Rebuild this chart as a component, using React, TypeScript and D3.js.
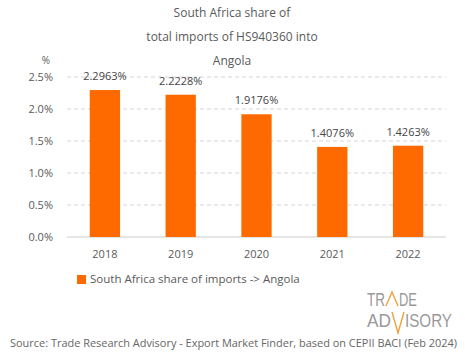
import * as React from 'react'
import {scaleBand, scaleLinear} from 'd3'

const years = ['2018', '2019', '2020', '2021', '2022']
const shares = [2.2963, 2.2228, 1.9176, 1.4076, 1.4263]
const yTicks = [0, 0.5, 1.0, 1.5, 2.0, 2.5]
const titleLines = ['South Africa share of', 'total imports of HS940360 into', 'Angola']
const legendLabel = 'South Africa share of imports -> Angola'
const sourceText = 'Source: Trade Research Advisory - Export Market Finder, based on CEPII BACI (Feb 2024)'

const W = 465
const H = 359
const font = '"Open Sans", "Noto Sans", sans-serif'
const orange = '#ff6a00'
const textCol = '#5a5a5a'

export default function App() {
  const x = scaleBand().domain(years).range([67, 446]).paddingInner(0.6).paddingOuter(0.3)
  const y = scaleLinear().domain([0, 2.5]).range([237, 77])
  const logoFont = '"Liberation Sans Narrow", "Liberation Sans", sans-serif'

  return (
    <svg width={W} height={H} style={{position: 'absolute', left: 0, top: 0}} fontFamily={font}>
      <rect width={W} height={H} fill="#fff" />
      {/* title */}
      {titleLines.map((t, i) => (
        <text key={t} x={232} y={17 + i * 24} textAnchor="middle" fontSize={12} fill={textCol}>{t}</text>
      ))}
      <text x={46} y={64} textAnchor="middle" fontSize={10} fill={textCol}>%</text>

      {/* grid + y axis */}
      {yTicks.map(t => (
        <g key={t}>
          <line x1={67} x2={446} y1={y(t)} y2={y(t)}
            stroke={t === 0 ? '#ccc' : '#d6d6d6'} strokeDasharray={t === 0 ? undefined : '4,3'} />
          <text x={53} y={y(t) + 4} textAnchor="end" fontSize={11} fill={textCol}>{t.toFixed(1)}%</text>
        </g>
      ))}

      {/* bars */}
      {years.map((yr, i) => (
        <g key={yr}>
          <rect x={x(yr)} y={y(shares[i])} width={x.bandwidth()} height={y(0) - y(shares[i])} fill={orange} />
          <text x={x(yr)! + x.bandwidth() / 2} y={y(shares[i]) - 10} textAnchor="middle" fontSize={11} fill="#444">
            {shares[i].toFixed(4)}%
          </text>
          <text x={x(yr)! + x.bandwidth() / 2} y={258} textAnchor="middle" fontSize={11} fill={textCol}>{yr}</text>
        </g>
      ))}

      {/* legend */}
      <rect x={77} y={275} width={9} height={9} fill={orange} />
      <text x={90} y={283} fontSize={11.5} fill={textCol}>{legendLabel}</text>

      {/* logo */}
      <g fontFamily={logoFont} fill="#999" fontSize={19}>
        <text x={367} y={306} textLength={18} lengthAdjust="spacingAndGlyphs">TR</text>
        <text x={399} y={306} textLength={18} lengthAdjust="spacingAndGlyphs">DE</text>
        <text x={367} y={327} textLength={24} lengthAdjust="spacingAndGlyphs">AD</text>
        <text x={405} y={327} textLength={47} lengthAdjust="spacingAndGlyphs">ISORY</text>
      </g>
      <path d="M386,306 L392,292 L398,306" fill="none" stroke="#f0a040" strokeWidth={1.4} />
      <path d="M392,312 L398,333 L404,312" fill="none" stroke="#f0a040" strokeWidth={1.4} />

      {/* source */}
      <text x={10} y={347} fontSize={11} fill="#666" textLength={447} lengthAdjust="spacingAndGlyphs">{sourceText}</text>
    </svg>
  )
}
